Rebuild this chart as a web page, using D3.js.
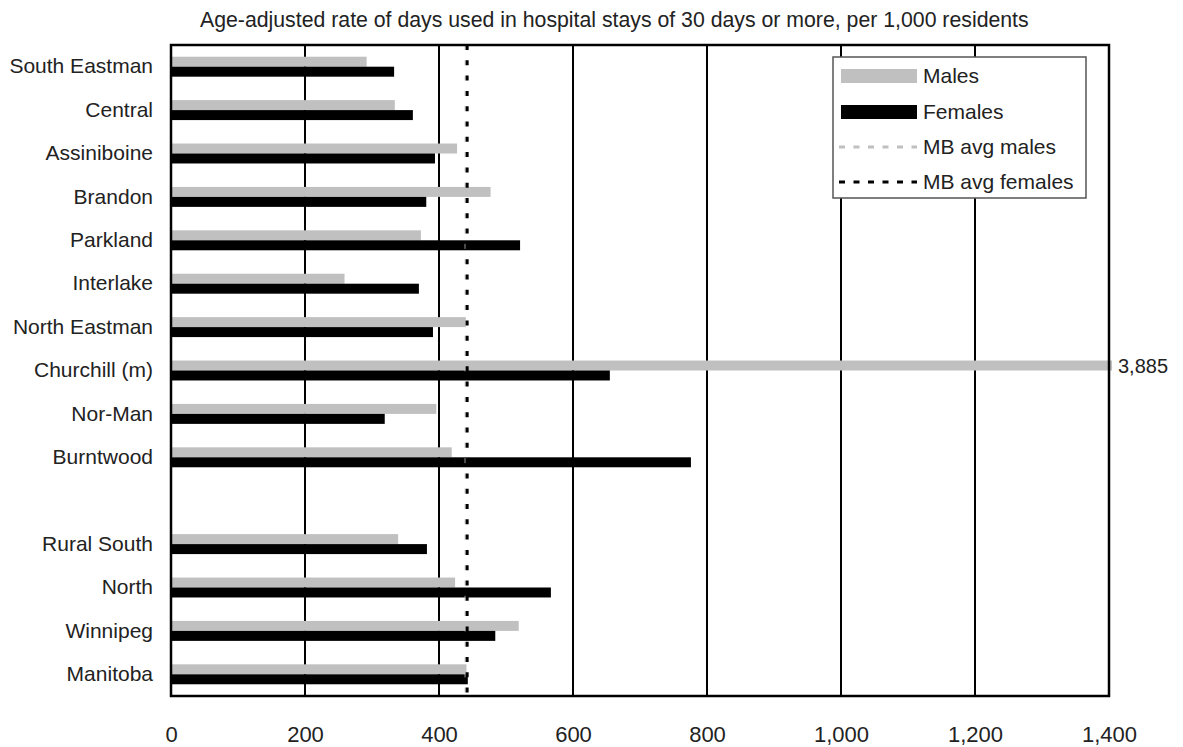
<!DOCTYPE html>
<html>
<head>
<meta charset="utf-8">
<script src="https://cdn.jsdelivr.net/npm/d3@7"></script>
<style>
  html, body { margin: 0; padding: 0; background: #fff; }
  svg { display: block; font-family: "Liberation Sans", Arial, Helvetica, sans-serif; }
</style>
</head>
<body>
<svg id="chart" width="1183" height="747"></svg>
<script>
// ---- data ----
const title = "Age-adjusted rate of days used in hospital stays of 30 days or more, per 1,000 residents";
const categories = ["South Eastman", "Central", "Assiniboine", "Brandon", "Parkland", "Interlake",
  "North Eastman", "Churchill (m)", "Nor-Man", "Burntwood", "Rural South", "North", "Winnipeg", "Manitoba"];
const gapAfter = "Burntwood";
const males   = [292, 334, 427, 477, 373, 259, 440, 3885, 396, 419, 339, 424, 519, 441];
const females = [333, 361, 394, 381, 521, 370, 391, 655, 319, 776, 382, 567, 484, 443];
const seriesNames = ["Males", "Females"];
const avgNames = ["MB avg males", "MB avg females"];
const avgValues = [439, 442];
const xTicks = [0, 200, 400, 600, 800, 1000, 1200, 1400];

// ---- layout ----
const W = 1183, H = 747;
const plot = { left: 171, right: 1109, top: 45, bottom: 696 };
const barColors = { Males: "#c0c0c0", Females: "#000000" };
const avgColors = ["#c0c0c0", "#000000"];
const textColor = "#222222";

const svg = d3.select("#chart");

const x = d3.scaleLinear().domain([0, xTicks[xTicks.length - 1]]).range([plot.left, plot.right]);
const rowDomain = [];
categories.forEach(c => { rowDomain.push(c); if (c === gapAfter) rowDomain.push("__gap__"); });
const y = d3.scaleBand().domain(rowDomain).range([plot.top, plot.bottom]).paddingInner(0.54).paddingOuter(0.27);
const ySub = d3.scaleBand().domain(seriesNames).range([0, y.bandwidth()]);

const rows = categories.map((c, i) => ({ cat: c, Males: males[i], Females: females[i] }));

// gridlines (under bars)
svg.append("g").selectAll("line")
  .data(xTicks.slice(1, -1))
  .join("line")
  .attr("x1", d => x(d)).attr("x2", d => x(d))
  .attr("y1", plot.top).attr("y2", plot.bottom)
  .attr("stroke", "#000").attr("stroke-width", 2);

// bars
const xMax = x.domain()[1];
const rowG = svg.append("g").selectAll("g")
  .data(rows).join("g")
  .attr("transform", d => `translate(0,${y(d.cat)})`);
rowG.selectAll("rect")
  .data(d => seriesNames.map(s => ({ s, v: d[s] })))
  .join("rect")
  .attr("x", x(0))
  .attr("y", d => ySub(d.s))
  .attr("height", ySub.bandwidth())
  .attr("width", d => d.v > xMax ? x(xMax) - x(0) + 3 : x(d.v) - x(0))
  .attr("fill", d => barColors[d.s]);

// value label for clipped bar
rows.forEach(r => {
  seriesNames.forEach(s => {
    if (r[s] > xMax) {
      svg.append("text")
        .attr("x", x(xMax) + 9)
        .attr("y", y(r.cat) + ySub(s) + ySub.bandwidth() / 2)
        .attr("dy", "0.35em")
        .attr("font-size", 20)
        .attr("fill", textColor)
        .text(d3.format(",")(r[s]));
    }
  });
});

// average lines
svg.append("line")
  .attr("x1", x(avgValues[0])).attr("x2", x(avgValues[0]))
  .attr("y1", plot.top).attr("y2", plot.bottom)
  .attr("stroke", avgColors[0]).attr("stroke-width", 1)
  .attr("stroke-dasharray", "5,10.3");
svg.append("line")
  .attr("x1", x(avgValues[1])).attr("x2", x(avgValues[1]))
  .attr("y1", plot.top).attr("y2", plot.bottom)
  .attr("stroke", avgColors[1]).attr("stroke-width", 3)
  .attr("stroke-dasharray", "5,10.3");

// plot border
svg.append("rect")
  .attr("x", plot.left).attr("y", plot.top)
  .attr("width", plot.right - plot.left).attr("height", plot.bottom - plot.top)
  .attr("fill", "none").attr("stroke", "#000").attr("stroke-width", 2.5);

// x axis labels
const xAxis = svg.append("g")
  .attr("transform", `translate(0,${plot.bottom})`)
  .call(d3.axisBottom(x).tickValues(xTicks).tickFormat(d3.format(",")).tickSize(0).tickPadding(30));
xAxis.select(".domain").remove();
xAxis.selectAll("text").attr("font-size", 22).attr("fill", textColor).attr("font-family", null);

// y axis labels
const yAxis = svg.append("g")
  .attr("transform", `translate(${plot.left},0)`)
  .call(d3.axisLeft(y).tickSize(0).tickPadding(18));
yAxis.select(".domain").remove();
yAxis.selectAll(".tick").filter(d => d === "__gap__").remove();
yAxis.selectAll("text").attr("font-size", 21).attr("fill", textColor).attr("font-family", null);

// title (fit to the reference span 200..1029)
const titleSpan = [200, 1029];
const titleEl = svg.append("text")
  .attr("x", titleSpan[0]).attr("y", 27)
  .attr("font-size", 19).attr("fill", textColor)
  .text(title);
const tLen = titleEl.node().getComputedTextLength();
titleEl.attr("font-size", 19 * (titleSpan[1] - titleSpan[0]) / tLen);

// legend
const lg = { x: 833, y: 57, w: 253, h: 141, rowY: [76, 112, 147, 182], swX: 841, swW: 76, txtX: 923 };
const legend = svg.append("g");
legend.append("rect")
  .attr("x", lg.x).attr("y", lg.y).attr("width", lg.w).attr("height", lg.h)
  .attr("fill", "#fff").attr("stroke", "#555").attr("stroke-width", 1.5);
const legendItems = seriesNames.map((s, i) => ({ name: s, type: "bar", color: barColors[s] }))
  .concat(avgNames.map((s, i) => ({ name: s, type: "line", color: avgColors[i] })));
legendItems.forEach((d, i) => {
  const cy = lg.rowY[i];
  if (d.type === "bar") {
    legend.append("rect").attr("x", lg.swX).attr("y", cy - 7).attr("width", lg.swW).attr("height", 14)
      .attr("fill", d.color);
  } else {
    legend.append("line").attr("x1", lg.swX - 2).attr("x2", lg.swX + lg.swW)
      .attr("y1", cy).attr("y2", cy)
      .attr("stroke", d.color).attr("stroke-width", 3).attr("stroke-dasharray", "6,8.5");
  }
  legend.append("text").attr("x", lg.txtX).attr("y", cy).attr("dy", "0.35em")
    .attr("font-size", 21).attr("fill", textColor).text(d.name);
});
</script>
</body>
</html>
